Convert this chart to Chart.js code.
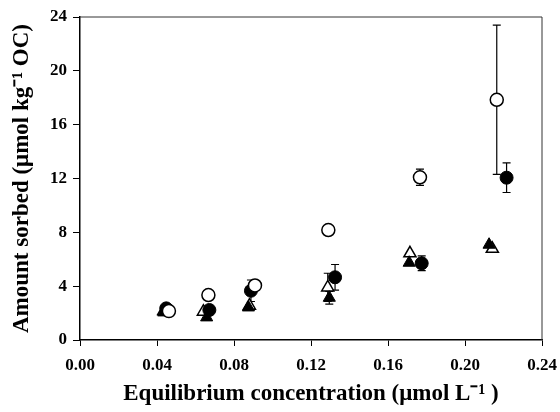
<!DOCTYPE html>
<html>
<head>
<meta charset="utf-8">
<script src="https://cdn.jsdelivr.net/npm/chart.js@4"></script>
<style>
  html, body { margin: 0; padding: 0; background: #fff; }
  #wrap { width: 560px; height: 412px; }
</style>
</head>
<body>
<div id="wrap"><canvas id="c" width="560" height="412"></canvas></div>
<script>
// x values (equilibrium concentration) and y values (amount sorbed) per series
var xOpenCircle = [0.0462, 0.0667, 0.0909, 0.1290, 0.1766, 0.2165];
var yOpenCircle = [2.15, 3.34, 4.05, 8.17, 12.09, 17.85];
var eOpenCircle = [0.35, 0, 0.2, 0, 0.6, 5.55];

var xFilledCircle = [0.0448, 0.0672, 0.0888, 0.1325, 0.1775, 0.2216];
var yFilledCircle = [2.35, 2.23, 3.66, 4.66, 5.70, 12.06];
var eFilledCircle = [0.2, 0.3, 0.8, 0.95, 0.55, 1.1];

var xOpenTriangle = [0.0435, 0.0641, 0.0880, 0.1287, 0.1714, 0.2142];
var yOpenTriangle = [2.15, 2.10, 2.55, 3.91, 6.44, 6.78];
var eOpenTriangle = [0, 0, 0, 1.05, 0, 0];

var xFilledTriangle = [0.0435, 0.0658, 0.0875, 0.1295, 0.1710, 0.2125];
var yFilledTriangle = [2.05, 1.68, 2.42, 3.14, 5.74, 7.08];
var eFilledTriangle = [0, 0, 0, 0.47, 0, 0];

var xTicks = [0, 0.04, 0.08, 0.12, 0.16, 0.20, 0.24];
var yTicks = [0, 4, 8, 12, 16, 20, 24];

function pts(xs, ys, es) {
    return xs.map(function (x, i) { return {x: x, y: ys[i], e: es[i]}; });
}

var errorBars = {
    id: 'errorBars',
    beforeDatasetsDraw: function (chart) {
        var ctx = chart.ctx;
        var xs = chart.scales.x, ys = chart.scales.y;
        ctx.save();
        ctx.strokeStyle = '#000';
        ctx.lineWidth = 1.2;
        chart.data.datasets.forEach(function (ds) {
            ds.data.forEach(function (p) {
                if (!p.e) return;
                var px = xs.getPixelForValue(p.x);
                var top = ys.getPixelForValue(p.y + p.e);
                var bot = ys.getPixelForValue(p.y - p.e);
                ctx.beginPath();
                ctx.moveTo(px, top); ctx.lineTo(px, bot);
                ctx.moveTo(px - 4, top); ctx.lineTo(px + 4, top);
                ctx.moveTo(px - 4, bot); ctx.lineTo(px + 4, bot);
                ctx.stroke();
            });
        });
        ctx.restore();
    }
};

var frame = {
    id: 'frame',
    afterDraw: function (chart) {
        var a = chart.chartArea, ctx = chart.ctx;
        ctx.save();
        ctx.strokeStyle = '#333';
        ctx.lineWidth = 1;
        ctx.beginPath();
        ctx.moveTo(a.left, a.top); ctx.lineTo(a.right, a.top); ctx.lineTo(a.right, a.bottom);
        ctx.stroke();
        ctx.restore();
    }
};

var tickFont = {family: '"Liberation Serif", "Times New Roman", serif', size: 17, weight: 'bold'};
var titleFont = {family: '"Liberation Serif", "Times New Roman", serif', size: 23, weight: 'bold'};

new Chart(document.getElementById('c'), {
    type: 'scatter',
    data: {
        datasets: [
            {label: 'open triangle', data: pts(xOpenTriangle, yOpenTriangle, eOpenTriangle), pointStyle: 'triangle', pointRadius: 7, backgroundColor: '#fff', borderColor: '#000', borderWidth: 1.5, order: 4},
            {label: 'filled triangle', data: pts(xFilledTriangle, yFilledTriangle, eFilledTriangle), pointStyle: 'triangle', pointRadius: 7, backgroundColor: '#000', borderColor: '#000', borderWidth: 1, order: 3},
            {label: 'filled circle', data: pts(xFilledCircle, yFilledCircle, eFilledCircle), pointStyle: 'circle', pointRadius: 6.5, backgroundColor: '#000', borderColor: '#000', borderWidth: 1, order: 2},
            {label: 'open circle', data: pts(xOpenCircle, yOpenCircle, eOpenCircle), pointStyle: 'circle', pointRadius: 6.5, backgroundColor: '#fff', borderColor: '#000', borderWidth: 1.5, order: 1}
        ]
    },
    options: {
        responsive: false,
        animation: false,
        layout: {padding: {top: 17, right: 18, left: 0, bottom: 0}},
        plugins: {legend: {display: false}, tooltip: {enabled: false}},
        scales: {
            x: {
                type: 'linear', min: 0, max: 0.24,
                afterBuildTicks: function (s) { s.ticks = xTicks.map(function (v) { return {value: v}; }); },
                afterFit: function (s) { s.height = 72; s.paddingLeft = 0; s.paddingRight = 0; },
                grid: {drawOnChartArea: false, color: '#000', tickLength: 6, tickWidth: 1},
                border: {color: '#000', width: 1.5},
                ticks: {color: '#000', font: tickFont, padding: 9, maxRotation: 0,
                    callback: function (v) { return v.toFixed(2); }},
                title: {display: true, text: 'Equilibrium concentration (\u03bcmol L\u207b\u00b9 )', color: '#000', font: titleFont, padding: {top: 4}}
            },
            y: {
                type: 'linear', min: 0, max: 24,
                afterBuildTicks: function (s) { s.ticks = yTicks.map(function (v) { return {value: v}; }); },
                afterFit: function (s) { s.width = 80; s.paddingTop = 0; s.paddingBottom = 0; },
                grid: {drawOnChartArea: false, color: '#000', tickLength: 7, tickWidth: 1},
                border: {color: '#000', width: 1.5},
                ticks: {color: '#000', font: tickFont, padding: 6},
                title: {display: true, text: 'Amount sorbed (\u03bcmol kg\u207b\u00b9 OC)', color: '#000', font: titleFont, padding: {bottom: 0, top: 8}}
            }
        }
    },
    plugins: [errorBars, frame]
});
</script>
</body>
</html>
